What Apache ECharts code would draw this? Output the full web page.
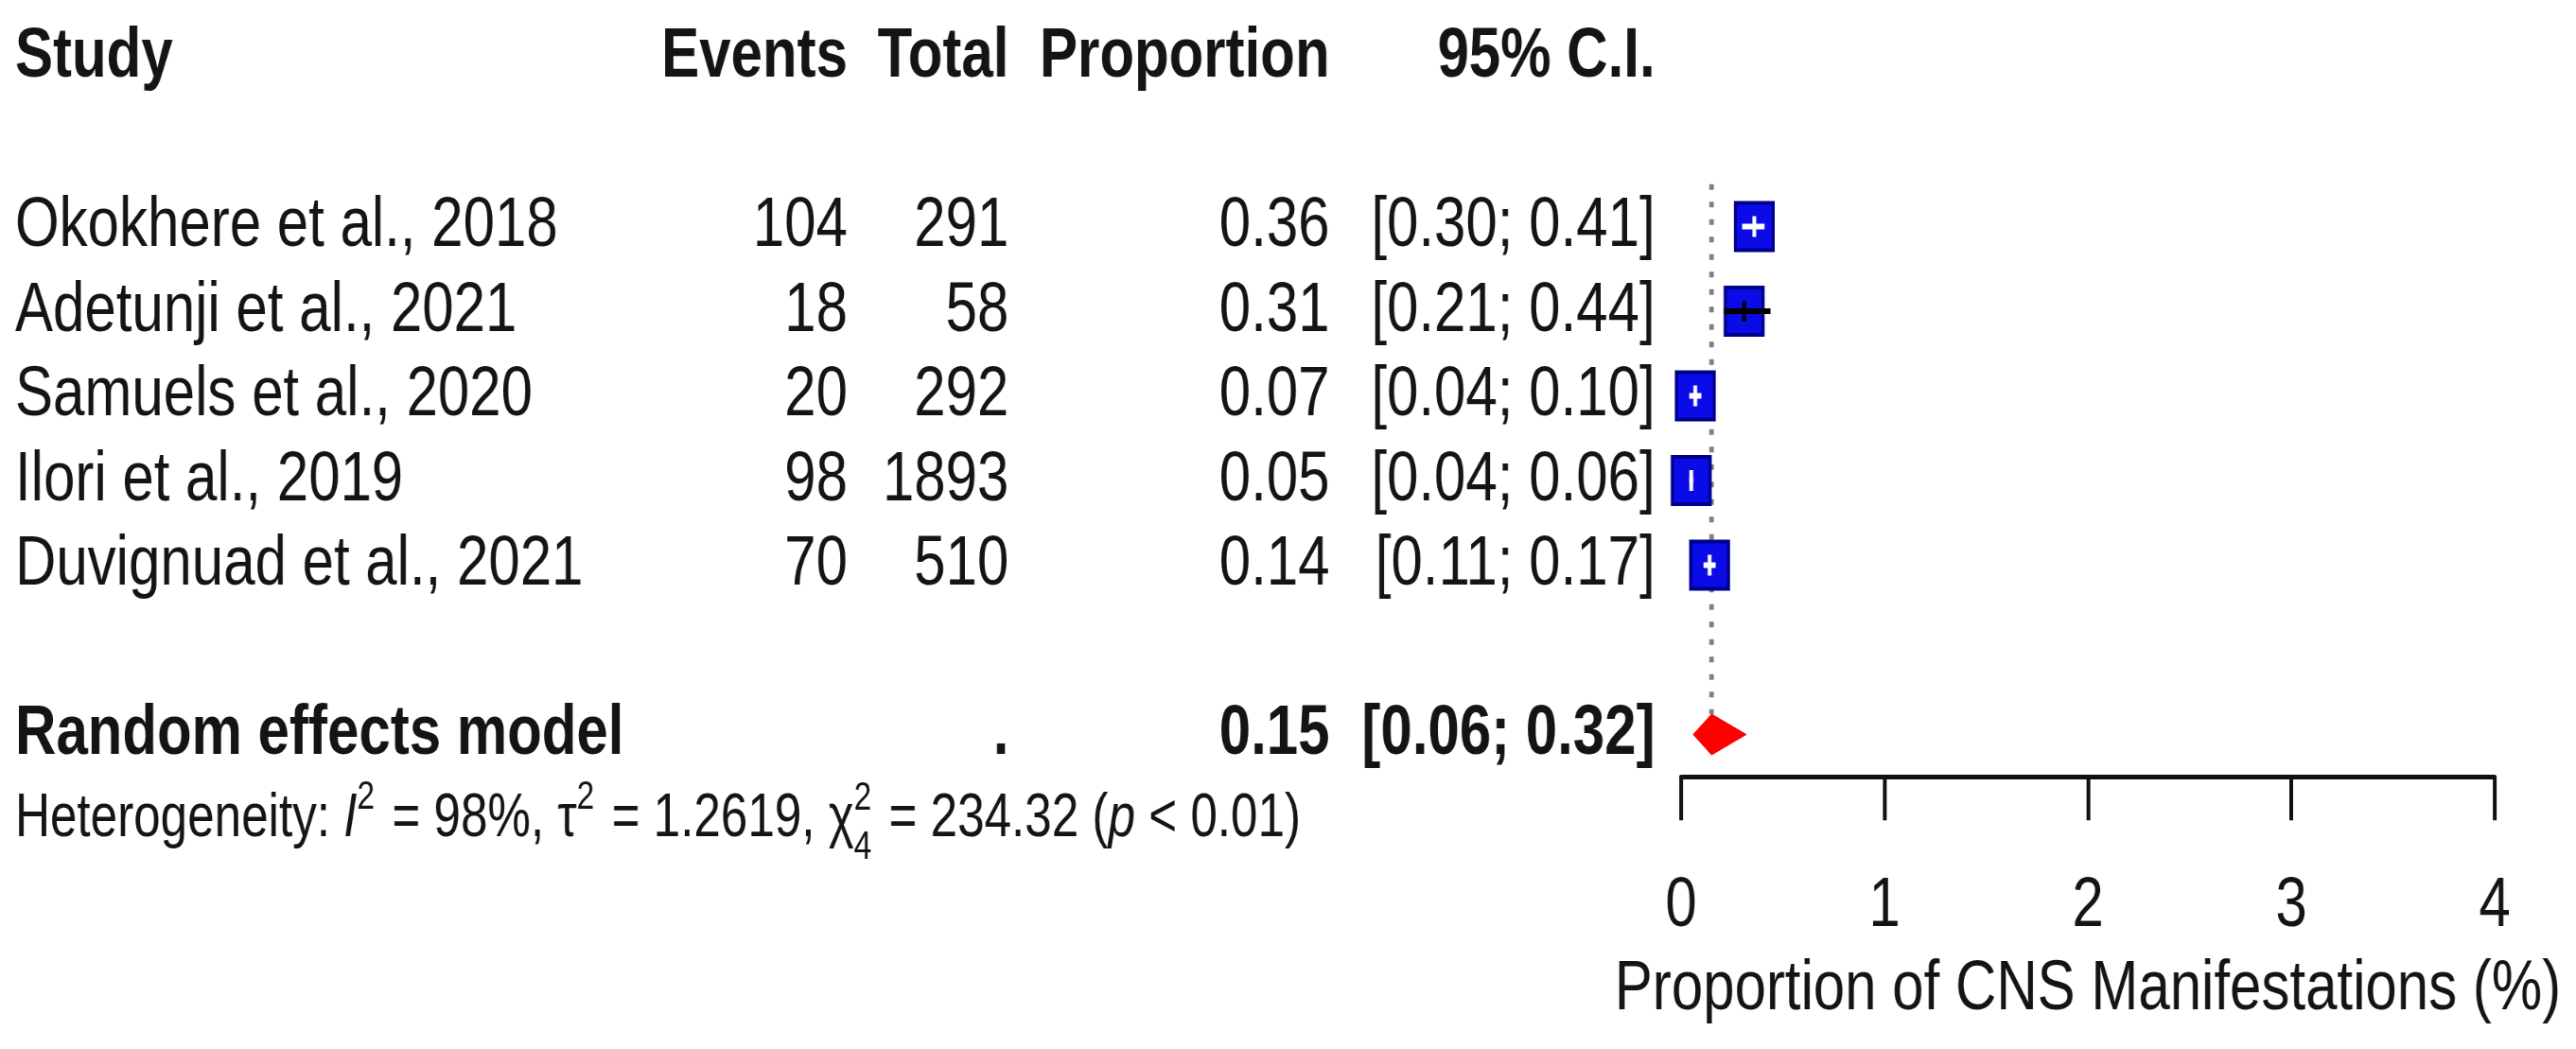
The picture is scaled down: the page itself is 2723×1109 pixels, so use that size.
<!DOCTYPE html>
<html>
<head>
<meta charset="utf-8">
<script src="https://cdn.jsdelivr.net/npm/echarts@6/dist/echarts.min.js"></script>
<style>
  html, body { margin: 0; padding: 0; background: #ffffff; overflow: hidden; }
  #wrap { width: 2723px; height: 1109px; overflow: hidden; position: relative; background: #fff; }
  #main { width: 3404px; height: 1109px; transform: scaleX(0.8); transform-origin: 0 0; }
</style>
</head>
<body>
<div id="wrap"><div id="main"></div></div>
<script>
// ---------------- data ----------------
const headers = ['Study', 'Events', 'Total', 'Proportion', '95% C.I.'];
const studies = ['Okokhere et al., 2018', 'Adetunji et al., 2021', 'Samuels et al., 2020', 'Ilori et al., 2019', 'Duvignuad et al., 2021'];
const events = [104, 18, 20, 98, 70];
const totals = [291, 58, 292, 1893, 510];
const proportions = [0.36, 0.31, 0.07, 0.05, 0.14];
const ciLower = [0.30, 0.21, 0.04, 0.04, 0.11];
const ciUpper = [0.41, 0.44, 0.10, 0.06, 0.17];
const pooledLabel = 'Random effects model';
const pooledEstimate = 0.15;
const pooledLower = 0.06;
const pooledUpper = 0.32;
const hetI2 = '98%';
const hetTau2 = '1.2619';
const hetChi2 = '234.32';
const hetDf = '4';
const hetP = '< 0.01';
const xTicks = [0, 1, 2, 3, 4];
const xAxisTitle = 'Proportion of CNS Manifestations (%)';

// ---------------- layout ----------------
const FONT = '"Liberation Sans", Arial, Helvetica, sans-serif';
const FS = 75;
const FS_HET = 64;
const FS_SCRIPT = 42;
const TEXT = '#141414';
const colStudy = 20, colEvents = 1120, colTotal = 1333, colProp = 1757, colCI = 2187;
const firstStudyRow = 2;
const pooledRow = firstStudyRow + studies.length + 1;
const hetRow = pooledRow + 1;
const BOX_HALF = 25;
const DIAMOND_HALF = 21.5;

const chart = echarts.init(document.getElementById('main'), null, { renderer: 'canvas' });

const studyData = proportions.map((p, i) => [p, firstStudyRow + i, ciLower[i], ciUpper[i]]);

const option = {
  backgroundColor: '#ffffff',
  animation: false,
  grid: { left: 2221.25, right: 107.75, top: 60.5 + 89.5 * 1.5, bottom: 1109 - (60.5 + 89.5 * 8.5), containLabel: false },
  xAxis: {
    type: 'value', min: xTicks[0], max: xTicks[xTicks.length - 1], interval: 1,
    position: 'bottom',
    axisLine: { show: true, onZero: false, lineStyle: { color: '#111', width: 5 } },
    axisTick: { show: true, inside: false, length: 46, lineStyle: { color: '#111', width: 5 } },
    axisLabel: { show: true, margin: 100, fontSize: FS, fontFamily: FONT, color: TEXT,
      formatter: v => xTicks.includes(v) ? String(v) : '' },
    splitLine: { show: false },
    name: xAxisTitle, nameLocation: 'middle', nameGap: 188,
    nameTextStyle: { fontSize: FS, fontFamily: FONT, color: TEXT }
  },
  yAxis: { type: 'value', min: 1.5, max: 8.5, inverse: true, show: false },
  series: [
    {
      name: 'reference', type: 'custom', coordinateSystem: 'cartesian2d', z: 1,
      data: [[pooledEstimate, 1.5, pooledRow]],
      renderItem: function (params, api) {
        const top = api.coord([api.value(0), api.value(1)]);
        const bot = api.coord([api.value(0), api.value(2)]);
        return { type: 'line', shape: { x1: top[0], y1: top[1], x2: bot[0], y2: bot[1] - DIAMOND_HALF },
          style: { stroke: '#7f7f7f', lineWidth: 6, lineDash: [6, 12.5] } };
      }
    },
    {
      name: 'studies', type: 'custom', coordinateSystem: 'cartesian2d', z: 2,
      data: studyData,
      renderItem: function (params, api) {
        const p = api.coord([api.value(0), api.value(1)]);
        const lo = api.coord([api.value(2), api.value(1)]);
        const hi = api.coord([api.value(3), api.value(1)]);
        const inside = lo[0] >= p[0] - BOX_HALF && hi[0] <= p[0] + BOX_HALF;
        const c = inside ? '#ffffff' : '#000000';
        return { type: 'group', children: [
          { type: 'rect', shape: { x: p[0] - BOX_HALF, y: p[1] - BOX_HALF, width: 2 * BOX_HALF, height: 2 * BOX_HALF },
            style: { fill: '#0b0be8', stroke: '#00008a', lineWidth: 4 } },
          { type: 'line', shape: { x1: lo[0], y1: p[1], x2: hi[0], y2: p[1] }, style: { stroke: c, lineWidth: 6 } },
          { type: 'line', shape: { x1: p[0], y1: p[1] - 11, x2: p[0], y2: p[1] + 11 }, style: { stroke: c, lineWidth: 5 } }
        ] };
      }
    },
    {
      name: 'pooled', type: 'custom', coordinateSystem: 'cartesian2d', z: 3,
      data: [[pooledEstimate, pooledRow, pooledLower, pooledUpper]],
      renderItem: function (params, api) {
        const c = api.coord([api.value(0), api.value(1)]);
        const lo = api.coord([api.value(2), api.value(1)]);
        const hi = api.coord([api.value(3), api.value(1)]);
        return { type: 'polygon',
          shape: { points: [[lo[0], c[1]], [c[0], c[1] - DIAMOND_HALF], [hi[0], c[1]], [c[0], c[1] + DIAMOND_HALF]] },
          style: { fill: '#ff0000', stroke: '#ee0000', lineWidth: 1 } };
      }
    }
  ]
};
chart.setOption(option);

// ---------------- text table ----------------
const rowY = r => chart.convertToPixel({ gridIndex: 0 }, [0, r])[1];
function txt(text, x, y, align, opts) {
  opts = opts || {};
  return { type: 'text', x: x, y: y, silent: true, z: 10,
    style: { text: String(text), fill: TEXT, fontFamily: FONT, fontSize: opts.size || FS,
      fontWeight: opts.bold ? 'bold' : 'normal', fontStyle: opts.italic ? 'italic' : 'normal',
      align: align, verticalAlign: 'middle' } };
}
const els = [];
const hy = rowY(0);
els.push(txt(headers[0], colStudy, hy, 'left', { bold: true }));
els.push(txt(headers[1], colEvents, hy, 'right', { bold: true }));
els.push(txt(headers[2], colTotal, hy, 'right', { bold: true }));
els.push(txt(headers[3], colProp, hy, 'right', { bold: true }));
els.push(txt(headers[4], colCI, hy, 'right', { bold: true }));
studies.forEach((s, i) => {
  const y = rowY(firstStudyRow + i);
  els.push(txt(s, colStudy, y, 'left'));
  els.push(txt(events[i], colEvents, y, 'right'));
  els.push(txt(totals[i], colTotal, y, 'right'));
  els.push(txt(proportions[i].toFixed(2), colProp, y, 'right'));
  els.push(txt('[' + ciLower[i].toFixed(2) + '; ' + ciUpper[i].toFixed(2) + ']', colCI, y, 'right'));
});
const py = rowY(pooledRow);
els.push(txt(pooledLabel, colStudy, py, 'left', { bold: true }));
els.push(txt('.', colTotal, py, 'right', { bold: true }));
els.push(txt(pooledEstimate.toFixed(2), colProp, py, 'right', { bold: true }));
els.push(txt('[' + pooledLower.toFixed(2) + '; ' + pooledUpper.toFixed(2) + ']', colCI, py, 'right', { bold: true }));

// heterogeneity line with super/subscripts
const ctx = document.createElement('canvas').getContext('2d');
function measure(t, size, italic) {
  ctx.font = (italic ? 'italic ' : '') + size + 'px ' + FONT;
  return ctx.measureText(t).width;
}
const segs = [
  { t: 'Heterogeneity: ' },
  { t: 'I', it: true },
  { t: '2', sup: true, dy: -23 },
  { t: ' = ' + hetI2 + ', τ' },
  { t: '2', sup: true, dy: -23 },
  { t: ' = ' + hetTau2 + ', χ' },
  { t: '2', sup: true, dy: -22, stack: true },
  { t: hetDf, sup: true, dy: 30 },
  { t: ' = ' + hetChi2 + ' (' },
  { t: 'p', it: true },
  { t: ' ' + hetP + ')' }
];
const ty = rowY(hetRow);
let cx = colStudy;
segs.forEach(sg => {
  const size = sg.sup ? FS_SCRIPT : FS_HET;
  els.push(txt(sg.t, cx, ty + (sg.dy || 0), 'left', { size: size, italic: sg.it }));
  if (!sg.stack) cx += measure(sg.t, size, sg.it) + (sg.sup ? 5 : 0);
});

chart.setOption({ graphic: { elements: els } });
</script>
</body>
</html>
